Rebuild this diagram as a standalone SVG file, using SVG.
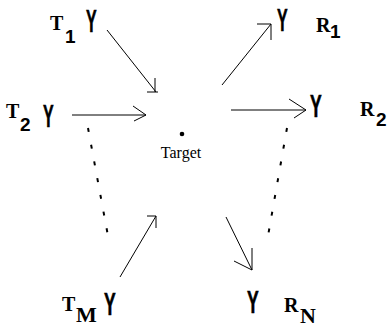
<svg xmlns="http://www.w3.org/2000/svg" width="388" height="328" viewBox="0 0 388 328">
<style>
.ln{stroke:#000;stroke-width:1;fill:none}
.dot{stroke:#000;stroke-width:2;fill:none;stroke-dasharray:4 13}
.lab{font-family:"Liberation Serif",serif;font-weight:bold;font-size:20px;fill:#000}
.sub{font-family:"Liberation Sans",sans-serif;font-weight:bold;font-size:19px;fill:#000}
.subs{font-family:"Liberation Serif",serif;font-weight:bold;font-size:22px;fill:#000}
.ant{font-family:"Liberation Sans",sans-serif;font-weight:bold;font-size:32px;fill:#000;stroke:#000;stroke-width:0.6}
.tgt{font-family:"Liberation Serif",serif;font-size:16px;fill:#000}
</style>
<rect width="388" height="328" fill="#fff"/>
<g id="T1">
<text class="lab" x="50" y="30">T</text>
<text class="sub" x="65" y="43">1</text>
<text class="ant" transform="translate(86,32) scale(0.5,1)">Y</text>
</g>
<g id="T2">
<text class="lab" x="6" y="118">T</text>
<text class="sub" x="20" y="131">2</text>
<text class="ant" transform="translate(43,127) scale(0.5,1)">Y</text>
</g>
<g id="TM">
<text class="lab" x="62" y="311">T</text>
<text class="subs" x="76" y="322">M</text>
<text class="ant" transform="translate(104,315) scale(0.55,1)">Y</text>
</g>
<g id="R1">
<text class="ant" transform="translate(277,31) scale(0.5,1)">Y</text>
<text class="lab" x="316" y="32">R</text>
<text class="sub" x="330" y="38">1</text>
</g>
<g id="R2">
<text class="ant" transform="translate(310,117) scale(0.55,1)">Y</text>
<text class="lab" x="360" y="116">R</text>
<text class="sub" x="376" y="126">2</text>
</g>
<g id="RN">
<text class="ant" transform="translate(247,313) scale(0.55,1)">Y</text>
<text class="lab" x="284" y="312">R</text>
<text class="subs" x="300" y="323">N</text>
</g>
<g id="Target">
<circle cx="182" cy="134" r="2.3" fill="#000"/>
<text class="tgt" x="181" y="158" text-anchor="middle">Target</text>
</g>
<g id="connectors">
<path class="ln" d="M107,30 L156,92 M147,92 L158,92 M155,78 L155,92"/>
<path class="ln" d="M72,115 L146,115 M133,106 L146,115 L134,121"/>
<path class="ln" d="M120,277 L156,216 M147,216 L156,216 L156,228"/>
<path class="ln" d="M222,85 L271,24 M257,24 L271,24 L271,40"/>
<path class="ln" d="M231,110 L306,110 M289,99 L306,110 L294,118"/>
<path class="ln" d="M226,217 L252,270 M234,261 L252,270 L252,248"/>
</g>
<g id="ellipsis">
<path class="dot" d="M88,128 L108,236"/>
<path class="dot" d="M287,128 L268,236"/>
</g>
</svg>
